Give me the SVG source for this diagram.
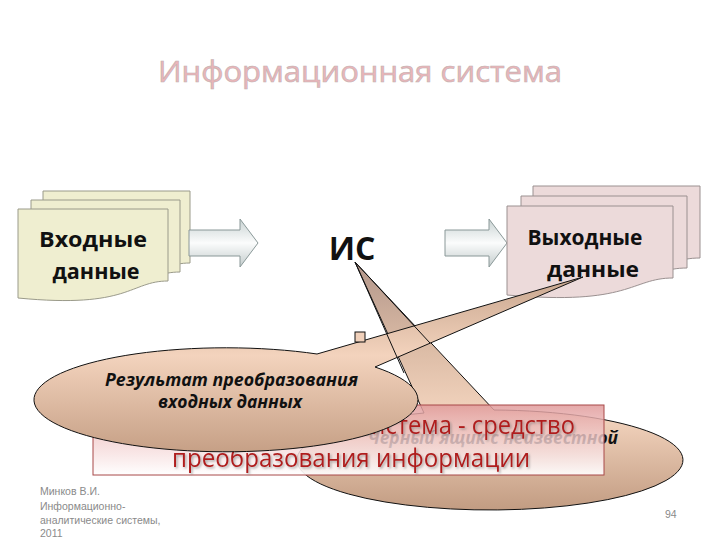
<svg xmlns="http://www.w3.org/2000/svg" width="720" height="540" viewBox="0 0 720 540">
<style>
.doc-in{fill:#efeed0;stroke:#9a9a8a;stroke-width:1}
.doc-out{fill:#ecdada;stroke:#9a9090;stroke-width:1}
.doctxt{font-family:"Open Sans","Liberation Sans",sans-serif;font-weight:bold;font-size:22px;fill:#111;text-anchor:middle}
.arrow{fill:url(#gArrow);stroke:#8a9898;stroke-width:1}
.callout{stroke:#111;stroke-width:1}
.ctxt{font-family:"Open Sans","Liberation Sans",sans-serif;font-weight:bold;font-style:italic;font-size:17px;fill:#111}
.red{font-family:"Open Sans","Liberation Sans",sans-serif;font-size:25px;fill:#b01c1c}
.foot{font-family:"Liberation Sans","DejaVu Sans",sans-serif;font-size:10.5px;fill:#8a8a8a}
</style>
<defs>
<linearGradient id="gArrow" x1="0" y1="0" x2="0" y2="1">
<stop offset="0" stop-color="#c9d3d3"/>
<stop offset="0.5" stop-color="#fbfcfc"/>
<stop offset="1" stop-color="#c3cccc"/>
</linearGradient>
<linearGradient id="gBig" x1="0" y1="0" x2="0" y2="1">
<stop offset="0" stop-color="#b2968a"/>
<stop offset="0.35" stop-color="#dcbca6"/>
<stop offset="0.62" stop-color="#f3d4be"/>
<stop offset="1" stop-color="#c29c82"/>
</linearGradient>
<linearGradient id="gLeft" x1="0" y1="0" x2="0" y2="1">
<stop offset="0" stop-color="#c8a68e"/>
<stop offset="0.45" stop-color="#f3d3bd"/>
<stop offset="1" stop-color="#c6a086"/>
</linearGradient>
<linearGradient id="gRect" x1="0" y1="0" x2="0" y2="1">
<stop offset="0" stop-color="#e09a9a" stop-opacity="0.85"/>
<stop offset="0.5" stop-color="#f3d0d0" stop-opacity="0.8"/>
<stop offset="1" stop-color="#ffffff" stop-opacity="0.92"/>
</linearGradient>
<filter id="shadow" x="-5%" y="-20%" width="110%" height="150%">
<feDropShadow dx="1.5" dy="1.5" stdDeviation="1" flood-color="#777" flood-opacity="0.6"/>
</filter>
</defs>

<rect width="720" height="540" fill="#ffffff"/>

<text id="title" x="158" y="82" textLength="404" lengthAdjust="spacingAndGlyphs" font-family="'Open Sans','Liberation Sans',sans-serif" font-size="29" fill="#ebb5b9" stroke="#c2b2b2" stroke-width="0.6">Информационная система</text>

<g id="input-data">
<path class="doc-in" d="M43,191 H190 V263 C153,263 153,291 43,280 Z"/>
<path class="doc-in" d="M31,200 H180 V272 C142,272 142,300 31,289 Z"/>
<path class="doc-in" d="M18,209 H168 V281 C130,281 130,309 18,298 Z"/>
<text class="doctxt" x="93" y="247" textLength="108" lengthAdjust="spacingAndGlyphs">Входные</text>
<text class="doctxt" x="96" y="279" textLength="87" lengthAdjust="spacingAndGlyphs">данные</text>
</g>

<g id="connectors">
<path class="arrow" d="M189,230 H240 V219 L258,243 L240,267 V256 H189 Z"/>
<path class="arrow" d="M445,230 H489 V219 L507,243 L489,267 V256 H445 Z"/>
</g>

<g id="is">
<text x="352" y="260" text-anchor="middle" font-family="'Open Sans','Liberation Sans',sans-serif" font-weight="bold" font-size="32" fill="#111">ИС</text>
</g>

<g id="output-data">
<path class="doc-out" d="M533,186 H700 V258 C658,258 658,286 533,275 Z"/>
<path class="doc-out" d="M521,196 H687 V268 C645,268 645,296 521,285 Z"/>
<path class="doc-out" d="M507,206 H673 V278 C631,278 631,306 507,295 Z"/>
<text class="doctxt" x="585" y="245" textLength="115" lengthAdjust="spacingAndGlyphs">Выходные</text>
<text class="doctxt" x="593" y="277" textLength="92" lengthAdjust="spacingAndGlyphs">данные</text>
</g>

<g id="callout-blackbox">
<path class="callout" fill="url(#gBig)" d="M424,413 L355,262 L494,410 A193,50 0 1,1 424,413 Z"/>
<text class="ctxt" x="368" y="444" textLength="250" lengthAdjust="spacingAndGlyphs">Черный ящик с неизвестной</text>
</g>

<g id="definition">
<rect x="93" y="405" width="511" height="70" fill="url(#gRect)" stroke="#a84848" stroke-width="1"/>
<g filter="url(#shadow)">
<text class="red" x="143" y="434" textLength="432" lengthAdjust="spacingAndGlyphs">Информационная система  - средство</text>
<text class="red" x="172" y="467" textLength="358" lengthAdjust="spacingAndGlyphs">преобразования информации</text>
</g>
</g>

<g id="callout-result">
<path class="callout" fill="url(#gLeft)" d="M317,354 L583,277 L375,367 A192,52 0 1,1 317,354 Z"/>
<rect x="355" y="332" width="10" height="10" fill="#f0d0ba" stroke="#111" stroke-width="1"/>
<path d="M404,373 L355,262 L430,343" fill="none" stroke="#111" stroke-width="1"/>
<text class="ctxt" x="105" y="386" textLength="253" lengthAdjust="spacingAndGlyphs">Результат преобразования</text>
<text class="ctxt" x="158" y="408" textLength="144" lengthAdjust="spacingAndGlyphs">входных данных</text>
</g>

<g id="footer">
<text class="foot" x="40" y="495">Минков В.И.</text>
<text class="foot" x="40" y="510">Информационно-</text>
<text class="foot" x="40" y="524">аналитические системы,</text>
<text class="foot" x="40" y="537">2011</text>
<text class="foot" x="665" y="518">94</text>
</g>
</svg>
